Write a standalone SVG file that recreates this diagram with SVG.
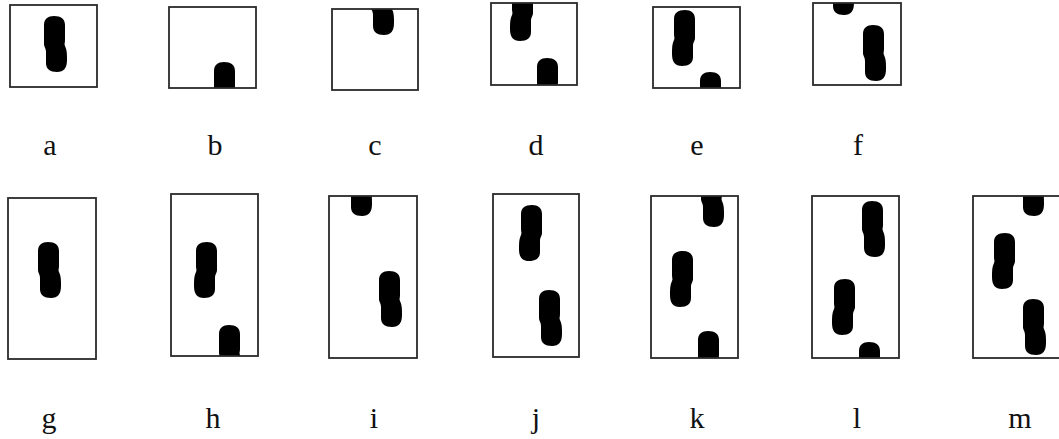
<svg xmlns="http://www.w3.org/2000/svg" xmlns:xlink="http://www.w3.org/1999/xlink" width="1059" height="439" viewBox="0 0 1059 439">
<style>
.box{fill:none;stroke:#2a2a2a;stroke-width:1.8}
.lbl{font-family:"Liberation Serif","DejaVu Serif",serif;font-size:30px;fill:#111;text-anchor:middle}
.blob{fill:#000}
</style>
<defs>
<path id="R" class="blob" d="M 1,9 C 1,3 5,0 11,0 C 18,0 22,3 22,9 L 22,24 C 22,27 21,28 22,30 C 24,34 24,38 24,44 C 24,52 21,56 14,56 C 7,56 3,53 3,47 L 3,36 C 3,32 1,31 1,28 Z"/>
<path id="L" class="blob" d="M 23,9 C 23,3 19,0 13,0 C 6,0 2,3 2,9 L 2,24 C 2,27 3,28 2,30 C 0,34 0,38 0,44 C 0,52 3,56 10,56 C 17,56 21,53 21,47 L 21,36 C 21,32 23,31 23,28 Z"/>
<clipPath id="ca"><rect x="10" y="5" width="87" height="82"/></clipPath>
<clipPath id="cb"><rect x="169" y="7" width="87" height="81"/></clipPath>
<clipPath id="cc"><rect x="332" y="9" width="86" height="81"/></clipPath>
<clipPath id="cd"><rect x="491" y="3" width="86" height="82"/></clipPath>
<clipPath id="ce"><rect x="653" y="7" width="87" height="81"/></clipPath>
<clipPath id="cf"><rect x="813" y="3" width="88" height="82"/></clipPath>
<clipPath id="cg"><rect x="8" y="198" width="88" height="161"/></clipPath>
<clipPath id="ch"><rect x="171" y="194" width="87" height="162"/></clipPath>
<clipPath id="ci"><rect x="329" y="196" width="88" height="162"/></clipPath>
<clipPath id="cj"><rect x="493" y="194" width="86" height="163"/></clipPath>
<clipPath id="ck"><rect x="651" y="196" width="87" height="162"/></clipPath>
<clipPath id="cl"><rect x="812" y="196" width="87" height="162"/></clipPath>
<clipPath id="cm"><rect x="973" y="196" width="100" height="162"/></clipPath>
</defs>
<g id="connectors"/>
<g id="node-a">
<g clip-path="url(#ca)"><use href="#R" x="43" y="16"/></g>
<rect class="box" x="10" y="5" width="87" height="82"/>
<text class="lbl" x="50" y="155">a</text>
</g>
<g id="node-b">
<g clip-path="url(#cb)"><use href="#R" x="213" y="62"/></g>
<rect class="box" x="169" y="7" width="87" height="81"/>
<text class="lbl" x="215" y="155">b</text>
</g>
<g id="node-c">
<g clip-path="url(#cc)"><use href="#R" x="370" y="-21"/></g>
<rect class="box" x="332" y="9" width="86" height="81"/>
<text class="lbl" x="375" y="155">c</text>
</g>
<g id="node-d">
<g clip-path="url(#cd)"><use href="#L" x="510" y="-15"/><use href="#R" x="536" y="58"/></g>
<rect class="box" x="491" y="3" width="86" height="82"/>
<text class="lbl" x="536" y="155">d</text>
</g>
<g id="node-e">
<g clip-path="url(#ce)"><use href="#L" x="672" y="10"/><use href="#R" x="699" y="72"/></g>
<rect class="box" x="653" y="7" width="87" height="81"/>
<text class="lbl" x="697" y="155">e</text>
</g>
<g id="node-f">
<g clip-path="url(#cf)"><use href="#R" x="830" y="-41"/><use href="#R" x="862" y="25"/></g>
<rect class="box" x="813" y="3" width="88" height="82"/>
<text class="lbl" x="858" y="155">f</text>
</g>
<g id="node-g">
<g clip-path="url(#cg)"><use href="#R" x="37" y="242"/></g>
<rect class="box" x="8" y="198" width="88" height="161"/>
<text class="lbl" x="49" y="428">g</text>
</g>
<g id="node-h">
<g clip-path="url(#ch)"><use href="#L" x="194" y="242"/><use href="#R" x="218" y="325"/></g>
<rect class="box" x="171" y="194" width="87" height="162"/>
<text class="lbl" x="213" y="428">h</text>
</g>
<g id="node-i">
<g clip-path="url(#ci)"><use href="#R" x="348" y="160"/><use href="#R" x="378" y="271"/></g>
<rect class="box" x="329" y="196" width="88" height="162"/>
<text class="lbl" x="374" y="428">i</text>
</g>
<g id="node-j">
<g clip-path="url(#cj)"><use href="#L" x="519" y="205"/><use href="#R" x="538" y="290"/></g>
<rect class="box" x="493" y="194" width="86" height="163"/>
<text class="lbl" x="536" y="428">j</text>
</g>
<g id="node-k">
<g clip-path="url(#ck)"><use href="#R" x="700" y="171"/><use href="#L" x="670" y="251"/><use href="#R" x="697" y="331"/></g>
<rect class="box" x="651" y="196" width="87" height="162"/>
<text class="lbl" x="697" y="428">k</text>
</g>
<g id="node-l">
<g clip-path="url(#cl)"><use href="#R" x="861" y="201"/><use href="#L" x="832" y="279"/><use href="#R" x="858" y="342"/></g>
<rect class="box" x="812" y="196" width="87" height="162"/>
<text class="lbl" x="857" y="428">l</text>
</g>
<g id="node-m">
<g clip-path="url(#cm)"><use href="#R" x="1020" y="160"/><use href="#L" x="992" y="233"/><use href="#R" x="1022" y="299"/></g>
<rect class="box" x="973" y="196" width="100" height="162"/>
<text class="lbl" x="1020" y="428">m</text>
</g>
</svg>
